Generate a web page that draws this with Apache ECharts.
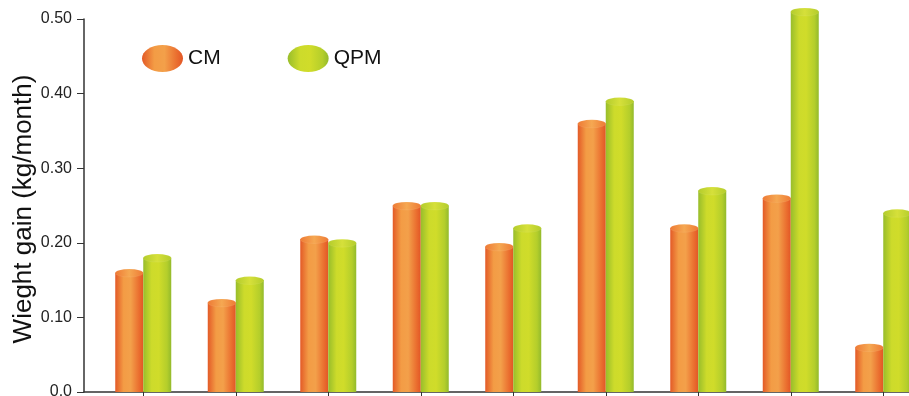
<!DOCTYPE html>
<html><head><meta charset="utf-8">
<script src="https://cdn.jsdelivr.net/npm/echarts@6/dist/echarts.min.js"></script>
<style>html,body{margin:0;padding:0;background:#fff}#c{width:909px;height:396px}</style>
</head><body><div id="c"></div>
<script>
const categories = ['1', '2', '3', '4', '5', '6', '7', '8', '9'];
const cmValues = [0.16, 0.12, 0.205, 0.25, 0.195, 0.36, 0.22, 0.26, 0.06];
const qpmValues = [0.18, 0.15, 0.20, 0.25, 0.22, 0.39, 0.27, 0.51, 0.24];
const yTickLabels = ['0.0', '0.10', '0.20', '0.30', '0.40', '0.50'];
const seriesNames = ['CM', 'QPM'];
const yTitle = 'Wieght gain (kg/month)';

const legendEllipse = 'path://M0,13.5 A20.5,13.5 0 1,1 41,13.5 A20.5,13.5 0 1,1 0,13.5 Z';
const capEllipse = 'path://M0,4 A14,4 0 1,1 28,4 A14,4 0 1,1 0,4 Z';
const font = "'Liberation Sans', Arial, sans-serif";

function hGrad(stops) {
  return new echarts.graphic.LinearGradient(0, 0, 1, 0, stops.map(s => ({offset: s[0], color: s[1]})));
}
const orangeBody = hGrad([[0, '#E35A27'], [0.3, '#F39C45'], [0.55, '#F3A04A'], [0.85, '#EA6E2F'], [1, '#E25626']]);
const greenBody = hGrad([[0, '#98BD2B'], [0.3, '#CDDB2B'], [0.55, '#D0DC2A'], [0.85, '#B4CE2B'], [1, '#93BA2C']]);
const orangeCap = hGrad([[0, '#EE7A35'], [0.5, '#F5A852'], [1, '#EE7A35']]);
const greenCap = hGrad([[0, '#B3CC2C'], [0.5, '#D6E03A'], [1, '#B3CC2C']]);

const chart = echarts.init(document.getElementById('c'), null, {renderer: 'canvas'});

function body(name, data, color) {
  return {
    name, type: 'bar', xAxisIndex: 1, yAxisIndex: 1, data,
    barWidth: 28, barGap: '0%', clip: false,
    itemStyle: {color}, emphasis: {disabled: true}, z: 2
  };
}
function cap(name, data, color) {
  return {
    name, type: 'pictorialBar', xAxisIndex: 1, yAxisIndex: 1, data,
    barWidth: 28, barGap: '0%', clip: false,
    symbol: capEllipse, symbolSize: [28, 8], symbolPosition: 'end', symbolOffset: [0, '-50%'],
    itemStyle: {color, borderColor: '#ffffff', borderWidth: 1.5},
    emphasis: {disabled: true}, z: 3
  };
}

chart.setOption({
  animation: false,
  backgroundColor: '#ffffff',
  grid: [
    {left: 84, right: 0, top: 19, bottom: 4, containLabel: false, outerBoundsMode: 'none'},
    {left: 97, width: 832.5, top: 19, bottom: 4, containLabel: false, outerBoundsMode: 'none'}
  ],
  legend: {
    left: 142, top: 45, padding: 0, itemWidth: 41, itemHeight: 27, itemGap: 67,
    data: seriesNames.map(n => ({name: n, icon: legendEllipse})),
    textStyle: {fontFamily: font, fontSize: 21, color: '#111'},
    selectedMode: false
  },
  graphic: [{
    type: 'text', x: 24, y: 209, rotation: Math.PI / 2,
    style: {text: yTitle, fontFamily: font, fontSize: 26,
      fill: '#111', textAlign: 'center', textVerticalAlign: 'middle'}
  }],
  xAxis: [
    {type: 'value', gridIndex: 0, min: 0, max: 1,
      axisLine: {show: true, lineStyle: {color: '#333', width: 1.5}},
      axisTick: {show: false}, axisLabel: {show: false}, splitLine: {show: false}},
    {type: 'category', gridIndex: 1, data: categories,
      axisLine: {show: false},
      axisTick: {show: true, alignWithLabel: true, length: 6, lineStyle: {color: '#333', width: 1}},
      axisLabel: {show: false}, splitLine: {show: false}}
  ],
  yAxis: [
    {type: 'value', gridIndex: 0, min: 0, max: 0.5, interval: 0.1,
      axisLine: {show: true, lineStyle: {color: '#333', width: 1.5}},
      axisTick: {show: true, length: 7, lineStyle: {color: '#333', width: 1}},
      axisLabel: {margin: 12, fontFamily: font, fontSize: 16, color: '#222',
        formatter: (v) => yTickLabels[Math.round(v * 10)]},
      splitLine: {show: false}},
    {type: 'value', gridIndex: 1, min: 0, max: 0.5, interval: 0.1, show: false, splitLine: {show: false}}
  ],
  series: [
    body('CM', cmValues, orangeBody),
    body('QPM', qpmValues, greenBody),
    cap('CM', cmValues, orangeCap),
    cap('QPM', qpmValues, greenCap)
  ]
});
</script></body></html>
